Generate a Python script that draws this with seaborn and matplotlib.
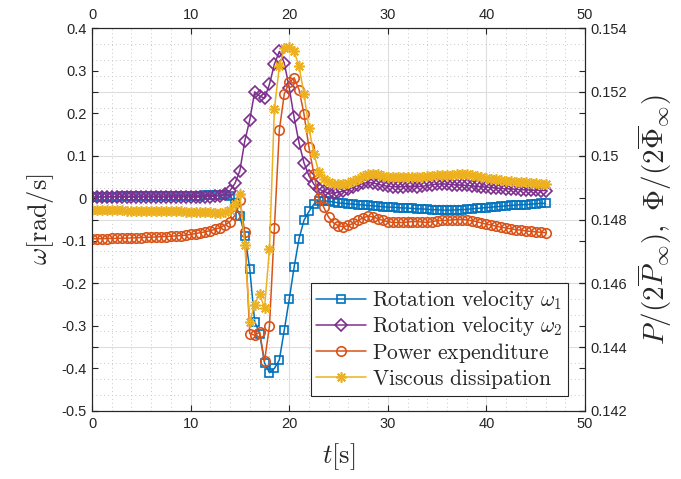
import numpy as np
import matplotlib
matplotlib.use("Agg")
import matplotlib.pyplot as plt
from matplotlib.ticker import MultipleLocator
import seaborn as sns

# ---------------- data ----------------
t = np.arange(0, 46.01, 0.5)  # sample times [s]

omega1 = [
    0.004, 0.004, 0.004, 0.004, 0.004, 0.004, 0.005, 0.005, 0.005, 0.005,
    0.005, 0.005, 0.005, 0.005, 0.005, 0.005, 0.006, 0.006, 0.006, 0.006,
    0.006, 0.006, 0.006, 0.007, 0.007, 0.007, 0.008, 0.008, 0.006, -0.012,
    -0.042, -0.088, -0.166, -0.29, -0.318, -0.387, -0.41, -0.40, -0.38, -0.31,
    -0.238, -0.162, -0.095, -0.052, -0.031, -0.014, -0.007, -0.006, -0.007, -0.009,
    -0.011, -0.012, -0.013, -0.014, -0.015, -0.016, -0.017, -0.018, -0.019, -0.020,
    -0.021, -0.021, -0.022, -0.023, -0.023, -0.024, -0.025, -0.025, -0.026, -0.027,
    -0.027, -0.028, -0.028, -0.028, -0.027, -0.027, -0.026, -0.025, -0.024, -0.023,
    -0.022, -0.021, -0.020, -0.019, -0.018, -0.017, -0.016, -0.015, -0.015, -0.014,
    -0.013, -0.012, -0.012,
]

omega2 = [
    0.003, 0.003, 0.003, 0.003, 0.003, 0.003, 0.003, 0.003, 0.003, 0.003,
    0.003, 0.003, 0.003, 0.003, 0.003, 0.003, 0.003, 0.003, 0.003, 0.003,
    0.003, 0.003, 0.003, 0.004, 0.004, 0.005, 0.006, 0.009, 0.018, 0.035,
    0.065, 0.135, 0.184, 0.250, 0.240, 0.235, 0.268, 0.315, 0.345, 0.318,
    0.260, 0.190, 0.130, 0.083, 0.053, 0.033, 0.022, 0.016, 0.012, 0.012,
    0.014, 0.017, 0.021, 0.026, 0.031, 0.035, 0.037, 0.036, 0.033, 0.030,
    0.028, 0.027, 0.027, 0.027, 0.028, 0.028, 0.027, 0.028, 0.030, 0.032,
    0.033, 0.034, 0.033, 0.032, 0.031, 0.031, 0.030, 0.029, 0.028, 0.027,
    0.026, 0.025, 0.024, 0.023, 0.022, 0.022, 0.021, 0.020, 0.020, 0.019,
    0.019, 0.018, 0.018,
]

power = [
    0.147393, 0.147397, 0.147400, 0.147404, 0.147407, 0.147411, 0.147413, 0.147417, 0.147421, 0.147427,
    0.147433, 0.147440, 0.147447, 0.147453, 0.147460, 0.147467, 0.147476, 0.147485, 0.147496, 0.147507,
    0.147533, 0.147560, 0.147587, 0.147613, 0.147653, 0.147693, 0.147747, 0.147827, 0.147933, 0.148133,
    0.148600, 0.147600, 0.144427, 0.144373, 0.144467, 0.143560, 0.144667, 0.147733, 0.150800, 0.151933,
    0.152293, 0.152440, 0.152067, 0.151307, 0.150267, 0.149427, 0.148667, 0.148387, 0.148067, 0.147893,
    0.147800, 0.147773, 0.147813, 0.147880, 0.147973, 0.148053, 0.148107, 0.148080, 0.148027, 0.147973,
    0.147933, 0.147907, 0.147907, 0.147907, 0.147920, 0.147933, 0.147933, 0.147920, 0.147907, 0.147933,
    0.147960, 0.147973, 0.147973, 0.147987, 0.148000, 0.148000, 0.147987, 0.147960, 0.147933, 0.147893,
    0.147853, 0.147827, 0.147787, 0.147760, 0.147733, 0.147707, 0.147680, 0.147667, 0.147640, 0.147627,
    0.147613, 0.147600, 0.147587,
]

viscous = [
    0.148307, 0.148307, 0.148307, 0.148293, 0.148293, 0.148293, 0.148293, 0.148280, 0.148280, 0.148280,
    0.148280, 0.148267, 0.148267, 0.148267, 0.148267, 0.148253, 0.148253, 0.148253, 0.148253, 0.148240,
    0.148240, 0.148240, 0.148227, 0.148227, 0.148227, 0.148213, 0.148213, 0.148227, 0.148293, 0.148493,
    0.148800, 0.147200, 0.144800, 0.145333, 0.145667, 0.145227, 0.147080, 0.151467, 0.152800, 0.153360,
    0.153400, 0.153267, 0.152800, 0.151933, 0.150880, 0.150067, 0.149493, 0.149267, 0.149160, 0.149107,
    0.149107, 0.149120, 0.149147, 0.149200, 0.149280, 0.149360, 0.149413, 0.149427, 0.149413, 0.149373,
    0.149347, 0.149333, 0.149320, 0.149320, 0.149333, 0.149333, 0.149333, 0.149347, 0.149360, 0.149373,
    0.149387, 0.149400, 0.149387, 0.149400, 0.149413, 0.149427, 0.149413, 0.149387, 0.149360, 0.149333,
    0.149307, 0.149280, 0.149267, 0.149240, 0.149213, 0.149200, 0.149187, 0.149173, 0.149160, 0.149147,
    0.149133, 0.149120, 0.149120,
]

labels = [r'$\mathrm{Rotation\ velocity}\ \omega_1$',
          r'$\mathrm{Rotation\ velocity}\ \omega_2$',
          r'$\mathrm{Power\ expenditure}$',
          r'$\mathrm{Viscous\ dissipation}$']

left_ticks = [-0.5, -0.4, -0.3, -0.2, -0.1, 0, 0.1, 0.2, 0.3, 0.4]
left_ticklabels = ['-0.5', '-0.4', '-0.3', '-0.2', '-0.1', '0', '0.1', '0.2', '0.3', '0.4']
right_ticks = [0.142, 0.144, 0.146, 0.148, 0.150, 0.152, 0.154]
right_ticklabels = ['0.142', '0.144', '0.146', '0.148', '0.15', '0.152', '0.154']
x_ticks = [0, 10, 20, 30, 40, 50]

# ---------------- style ----------------
sns.set_style("white")
plt.rcParams['font.family'] = ['Liberation Sans', 'DejaVu Sans']
plt.rcParams['mathtext.fontset'] = 'cm'

C_BLUE = '#0072BD'
C_PURPLE = '#7E2F8E'
C_ORANGE = '#D95319'
C_YELLOW = '#EDB120'
AX_COL = '#262626'

fig = plt.figure(figsize=(6.81, 4.79), dpi=100)
rect = [0.1351, 0.1420, 0.7239, 0.7995]

# background axes carrying the grid (grid follows the right axis, as in the reference)
ax0 = fig.add_axes(rect)
ax0.set_xlim(0, 50)
ax0.set_ylim(0.142, 0.154)
ax0.xaxis.set_major_locator(MultipleLocator(10))
ax0.xaxis.set_minor_locator(MultipleLocator(2))
ax0.yaxis.set_major_locator(MultipleLocator(0.002))
ax0.yaxis.set_minor_locator(MultipleLocator(0.0005))
ax0.grid(True, which='major', color='#dedede', lw=0.8, ls='-')
ax0.grid(True, which='minor', color='#c8c8c8', lw=0.7, ls=(0, (1, 3)))
ax0.tick_params(which='both', length=0, labelleft=False, labelbottom=False)
ax0.tick_params(axis='y', which='major', direction='in', length=4, left=True, right=True,
                color=AX_COL, width=0.8)
for s in ax0.spines.values():
    s.set_visible(False)

ax1 = fig.add_axes(rect, sharex=ax0)
ax1.patch.set_visible(False)
ax2 = ax1.twinx()

mk = dict(markerfacecolor='none', linewidth=1.1, markeredgewidth=1.2)
sns.lineplot(x=t, y=omega1, ax=ax1, color=C_BLUE, marker='s', markersize=5.5,
             markeredgecolor=C_BLUE, label=labels[0], legend=False, **mk)
sns.lineplot(x=t, y=omega2, ax=ax1, color=C_PURPLE, marker='D', markersize=6.5,
             markeredgecolor=C_PURPLE, label=labels[1], legend=False, **mk)
sns.lineplot(x=t, y=power, ax=ax2, color=C_ORANGE, marker='o', markersize=6.8,
             markeredgecolor=C_ORANGE, label=labels[2], legend=False, **mk)
sns.lineplot(x=t, y=viscous, ax=ax2, color=C_YELLOW, marker=(8, 2, 0), markersize=7.5,
             markeredgecolor=C_YELLOW, label=labels[3], legend=False, **mk)

ax1.set_xlim(0, 50)
ax1.set_ylim(-0.5, 0.4)
ax2.set_ylim(0.142, 0.154)

ax1.set_xticks(x_ticks)
ax1.set_xticklabels([str(v) for v in x_ticks])
ax1.set_yticks(left_ticks)
ax1.set_yticklabels(left_ticklabels)
ax2.set_yticks(right_ticks)
ax2.set_yticklabels(right_ticklabels)

ax1.tick_params(axis='x', which='major', direction='in', length=4, top=True, labeltop=True,
                bottom=True, labelbottom=True, colors=AX_COL, labelsize=10.5, width=0.8, pad=4)
ax1.tick_params(axis='y', which='major', direction='in', length=4, left=True, right=True,
                labelright=False, colors=AX_COL, labelsize=10.5, width=0.8, pad=4)
ax2.tick_params(axis='y', which='major', direction='in', length=4, right=True, left=False,
                colors=AX_COL, labelsize=10.5, width=0.8, pad=4)

for ax in (ax1, ax2):
    for s in ax.spines.values():
        s.set_color(AX_COL)
        s.set_linewidth(0.8)

ax1.set_xlabel(r'$t[\mathrm{s}]$', fontsize=19, color=AX_COL, labelpad=8)
ax1.set_ylabel(r'$\omega[\mathrm{rad/s}]$', fontsize=19, color=AX_COL, labelpad=4)
ax2.set_ylabel(r'$P/(2\overline{P}_\infty),\ \Phi/(2\overline{\Phi}_\infty)$',
               fontsize=21, color=AX_COL, labelpad=6)

handles = ax1.get_lines() + ax2.get_lines()
handles = [h for h in handles if not h.get_label().startswith('_')]
leg = ax2.legend(handles=handles, labels=labels, loc='lower right',
                 bbox_to_anchor=(0.9655, 0.039), borderaxespad=0, fontsize=15.5,
                 frameon=True, fancybox=False, framealpha=1, edgecolor=AX_COL,
                 handlelength=2.3, handletextpad=0.3, labelspacing=0.1, borderpad=0.25)
leg.get_frame().set_linewidth(0.8)

fig.savefig('out.png', dpi=100)
